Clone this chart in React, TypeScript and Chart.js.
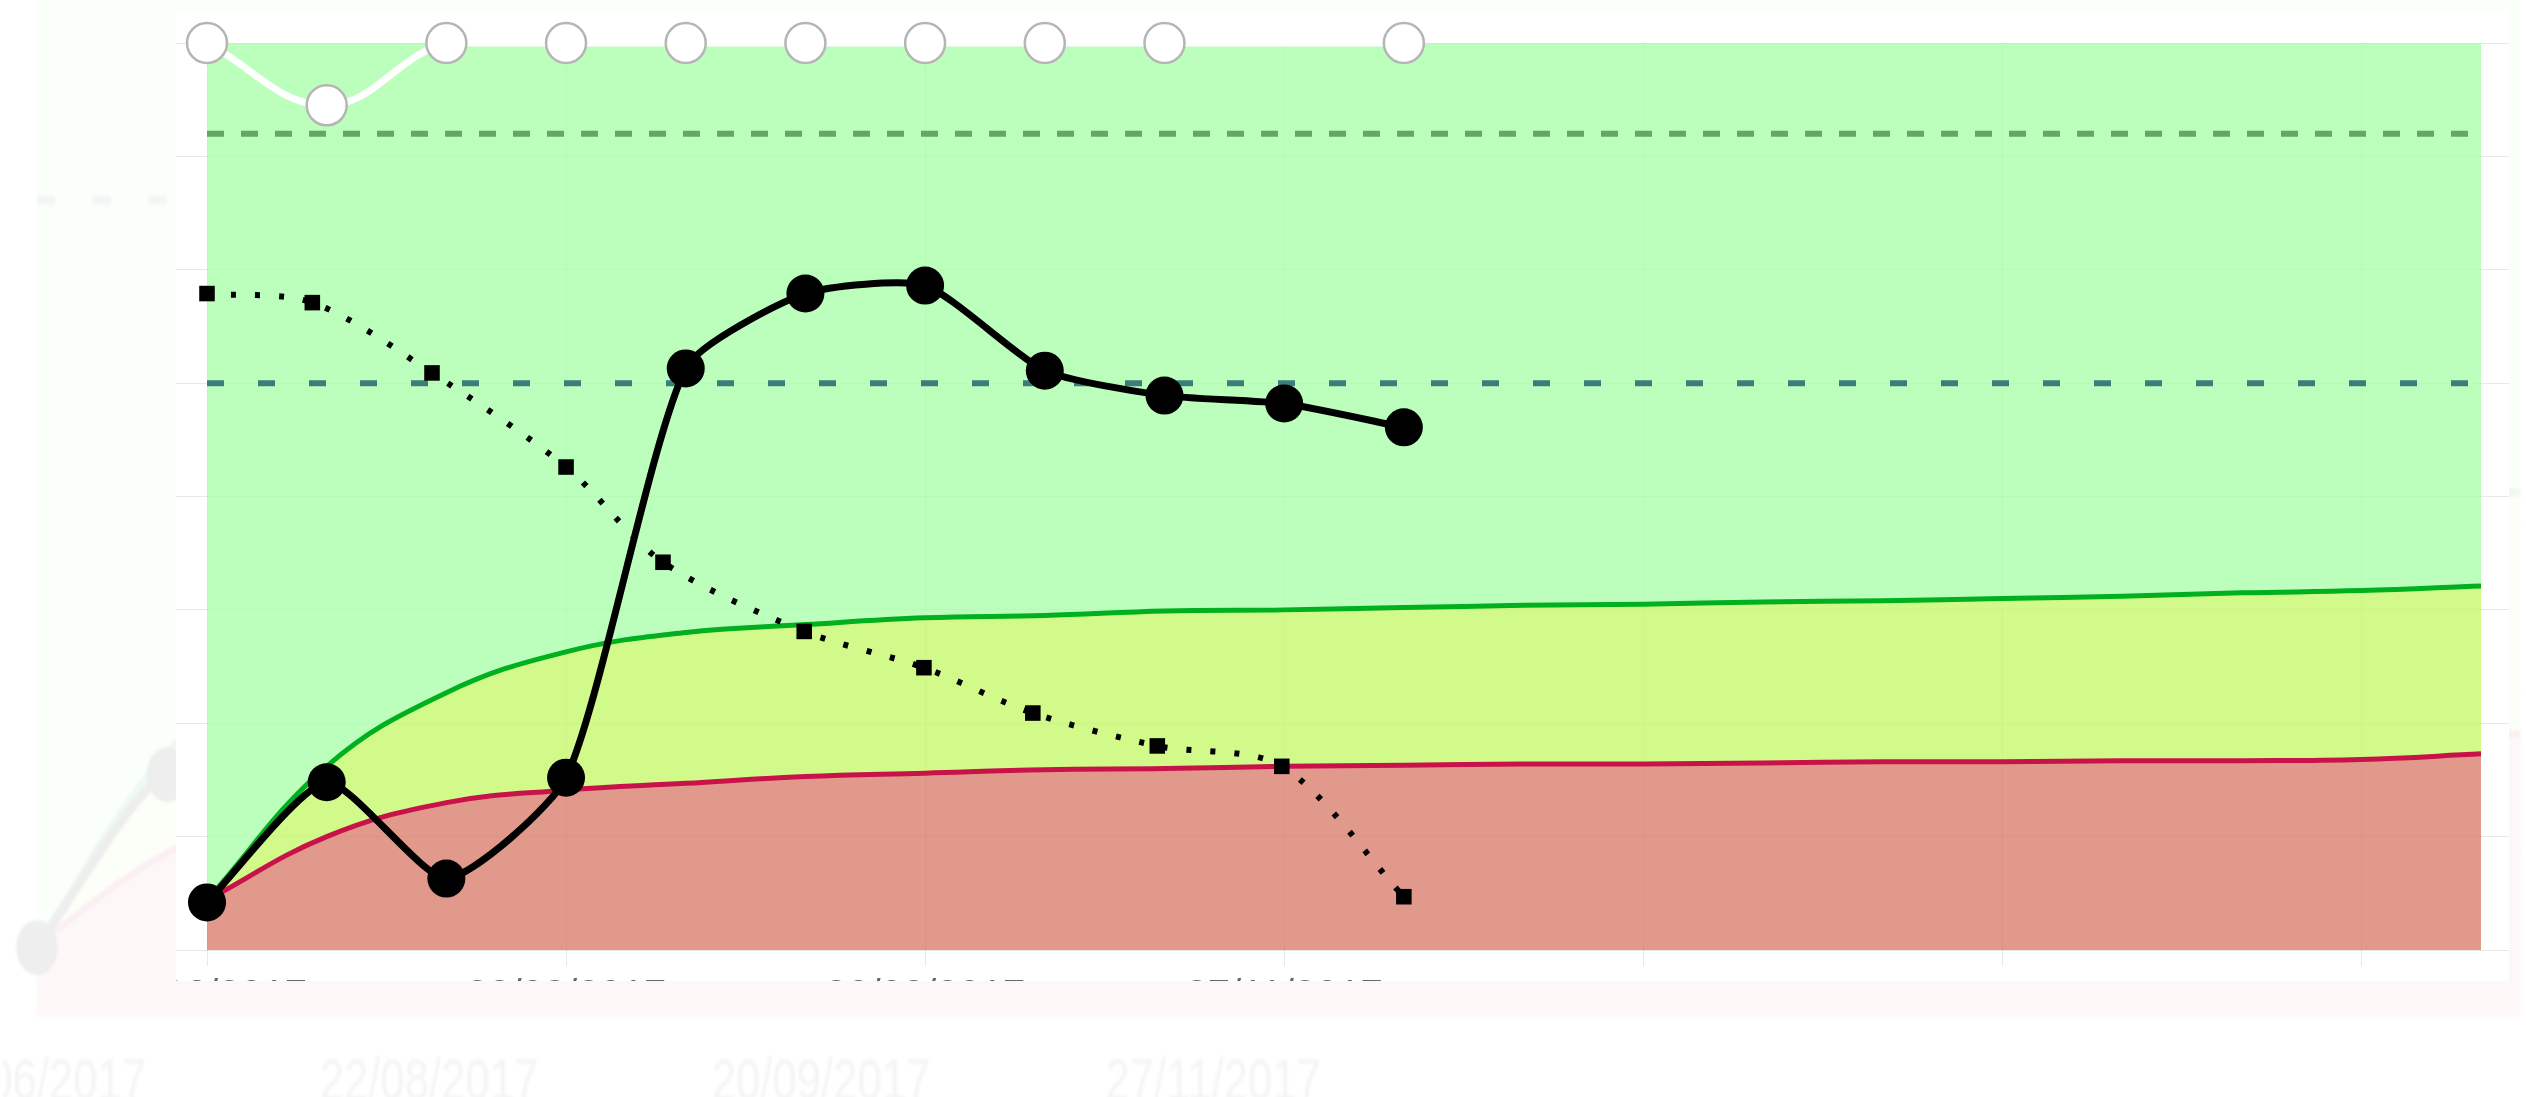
import React, { useEffect, useRef } from 'react';
import { Chart, registerables } from 'chart.js';

Chart.register(...registerables);

// ---- data ----
const xTickLabels = [
  '26/06/2017', '', '', '22/08/2017', '', '', '20/09/2017', '', '', '27/11/2017',
  '', '', '', '', '', '', '', '', '', '',
];

const mainValues = [0.42, 1.48, 0.63, 1.52, 5.13, 5.79, 5.86, 5.11, 4.89, 4.82, 4.61];
const topMarkerValues = [8, 7.45, 8, 8, 8, 8, 8, 8, 8, null, 8];

const trendX = [0, 0.88, 1.88, 3.0, 3.81, 4.99, 5.99, 6.9, 7.94, 8.98, 10];
const trendValues = [5.79, 5.71, 5.09, 4.26, 3.42, 2.81, 2.49, 2.09, 1.8, 1.62, 0.47];

const upperBand = [
  0.44, 1.62, 2.27, 2.63, 2.8, 2.87, 2.93, 2.95, 2.99, 3.0,
  3.02, 3.04, 3.05, 3.07, 3.08, 3.1, 3.12, 3.15, 3.17, 3.21,
];
const lowerBand = [
  0.44, 1.0, 1.3, 1.41, 1.47, 1.53, 1.56, 1.59, 1.6, 1.62,
  1.63, 1.64, 1.64, 1.65, 1.66, 1.66, 1.67, 1.67, 1.68, 1.73,
];

const targetHigh = 7.2;
const targetMid = 5.0;
const xMin = 0;
const xMax = 19;
const yMin = 0;
const yMax = 8;

// ---- sizes ----
const CARD_LEFT = 176;
const CARD_TOP = 11;
const CARD_W = 2333;
const CARD_H = 970;
const CANVAS_W = 2333;
const CANVAS_H = 1012;

function pts(values: (number | null)[]) {
  return values.map((y, i) => ({ x: i, y }));
}

function buildConfig(withTrend: boolean): any {
  const gridColor = 'rgba(0,0,0,0.09)';
  const datasets: any[] = [
    {
      label: 'greenTop',
      data: pts(upperBand),
      fill: 'end',
      backgroundColor: 'rgba(166,255,166,0.75)',
      borderWidth: 0,
      pointRadius: 0,
      tension: 0.4,
      order: 50,
    },
    {
      label: 'upper',
      data: pts(upperBand),
      fill: 2,
      backgroundColor: 'rgba(195,248,99,0.75)',
      borderColor: '#00b01e',
      borderWidth: 5,
      pointRadius: 0,
      tension: 0.4,
      order: 40,
    },
    {
      label: 'lower',
      data: pts(lowerBand),
      fill: 'start',
      backgroundColor: 'rgba(214,119,99,0.75)',
      borderColor: '#c8134a',
      borderWidth: 5,
      pointRadius: 0,
      tension: 0.4,
      order: 30,
    },
    {
      label: 'targetHigh',
      data: [{ x: xMin, y: targetHigh }, { x: xMax, y: targetHigh }],
      borderColor: '#62a862',
      borderWidth: 6,
      borderDash: [17, 17],
      pointRadius: 0,
      fill: false,
      order: 20,
    },
    {
      label: 'targetMid',
      data: [{ x: xMin, y: targetMid }, { x: xMax, y: targetMid }],
      borderColor: '#3a7d7a',
      borderWidth: 6,
      borderDash: [17, 34],
      pointRadius: 0,
      fill: false,
      order: 20,
    },
    {
      label: 'main',
      data: pts(mainValues),
      borderColor: '#000',
      borderWidth: 7,
      pointRadius: 19,
      pointBackgroundColor: '#000',
      pointBorderWidth: 0,
      fill: false,
      tension: 0.2,
      clip: false,
      order: 2,
    },
    {
      label: 'markers',
      data: pts(topMarkerValues),
      borderColor: '#ffffff',
      borderWidth: 7,
      pointRadius: 20,
      pointBackgroundColor: '#ffffff',
      pointBorderColor: '#b5b5b5',
      pointBorderWidth: 2.5,
      fill: false,
      tension: 0.4,
      spanGaps: true,
      clip: false,
      order: 1,
    },
  ];
  if (withTrend) {
    datasets.push({
      label: 'trend',
      data: trendX.map((x, i) => ({ x, y: trendValues[i] })),
      borderColor: '#000',
      borderWidth: 6,
      borderDash: [5, 19],
      pointStyle: 'rect',
      pointRadius: 11,
      pointBackgroundColor: '#000',
      pointBorderWidth: 0,
      fill: false,
      tension: 0.3,
      clip: false,
      order: 5,
    });
  }
  return {
    type: 'line',
    data: { datasets },
    options: {
      responsive: false,
      animation: false,
      devicePixelRatio: 1,
      events: [],
      layout: { padding: { top: 32, left: 0, right: 0, bottom: 0 } },
      plugins: {
        legend: { display: false },
        tooltip: { enabled: false },
      },
      scales: {
        x: {
          type: 'linear',
          min: xMin,
          max: xMax,
          afterFit: (s: any) => {
            s.height = CANVAS_H - 939;
            s.paddingLeft = 0;
            s.paddingRight = 0;
          },
          ticks: {
            stepSize: 3,
            includeBounds: false,
            autoSkip: false,
            maxRotation: 0,
            padding: 7,
            color: '#666',
            font: { size: 40, family: "'Helvetica Neue', Helvetica, Arial, 'Liberation Sans', sans-serif" },
            callback: (v: number) => xTickLabels[v] ?? '',
          },
          grid: { color: gridColor, tickLength: 16 },
          border: { display: false },
        },
        y: {
          min: yMin,
          max: yMax,
          afterFit: (s: any) => {
            s.width = 31;
            s.paddingTop = 0;
            s.paddingBottom = 0;
          },
          ticks: { display: false, stepSize: 1 },
          grid: { color: gridColor, tickLength: 31 },
          border: { display: false },
        },
        y2: {
          position: 'right',
          min: yMin,
          max: yMax,
          afterFit: (s: any) => {
            s.width = 28;
            s.paddingTop = 0;
            s.paddingBottom = 0;
          },
          ticks: { display: false, stepSize: 1 },
          grid: { color: gridColor, tickLength: 28, drawOnChartArea: false },
          border: { display: false },
        },
      },
    },
  };
}

function ChartCanvas({ withTrend }: { withTrend: boolean }) {
  const ref = useRef<HTMLCanvasElement>(null);
  useEffect(() => {
    const chart = new Chart(ref.current as HTMLCanvasElement, buildConfig(withTrend));
    return () => chart.destroy();
  }, [withTrend]);
  return (
    <canvas
      ref={ref}
      width={CANVAS_W}
      height={CANVAS_H}
      style={{ display: 'block', width: CANVAS_W, height: CANVAS_H }}
    />
  );
}

export default function App() {
  return (
    <div
      style={{
        position: 'fixed',
        left: 0,
        top: 0,
        width: 2526,
        height: 1097,
        overflow: 'hidden',
        background: '#ffffff',
      }}
    >
      {/* faded, enlarged copy of the chart in the background */}
      <div
        style={{
          position: 'absolute',
          left: 3.15,
          top: -336,
          transformOrigin: '0 0',
          transform: 'scale(1.092, 1.44)',
          opacity: 0.07,
          filter: 'blur(1px)',
        }}
      >
        <ChartCanvas withTrend={false} />
      </div>
      {/* main card */}
      <div
        style={{
          position: 'absolute',
          left: CARD_LEFT,
          top: CARD_TOP,
          width: CARD_W,
          height: CARD_H,
          overflow: 'hidden',
          background: '#ffffff',
        }}
      >
        <ChartCanvas withTrend={true} />
      </div>
    </div>
  );
}
